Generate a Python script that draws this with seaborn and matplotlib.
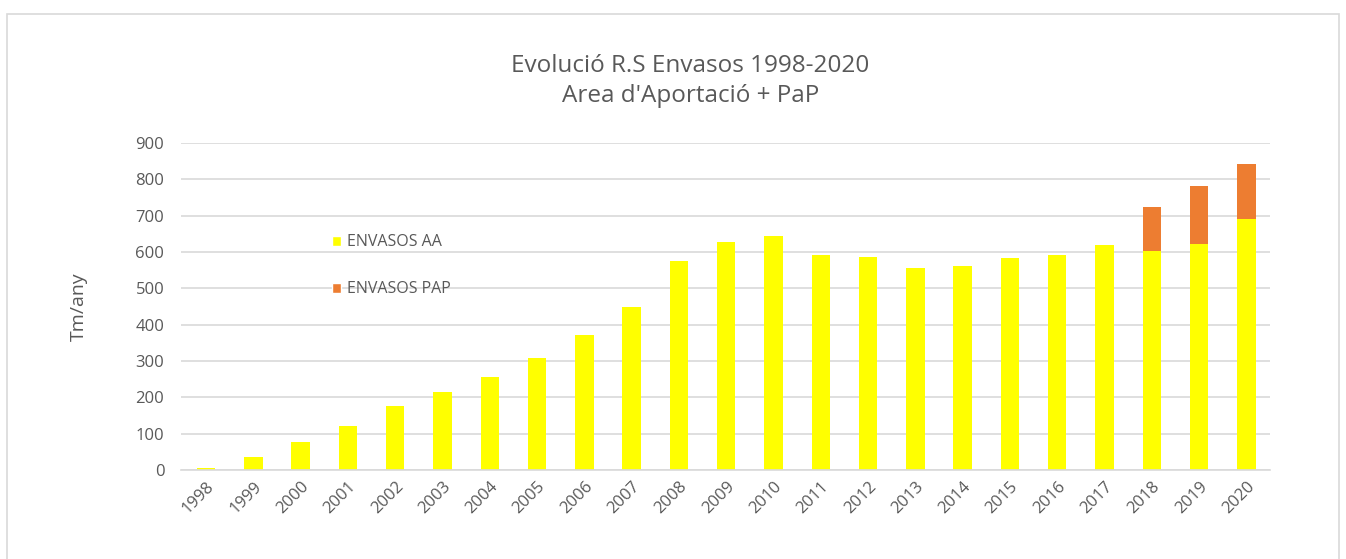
import matplotlib
matplotlib.use('Agg')
import matplotlib.pyplot as plt
import seaborn as sns
import pandas as pd
from matplotlib.patches import Patch, Rectangle

years = [str(y) for y in range(1998, 2021)]
envasos_aa = [5, 37, 78, 121, 175, 214, 257, 309, 372, 450, 575, 627, 643,
              592, 586, 556, 562, 583, 592, 620, 603, 623, 691]
envasos_pap = [0, 0, 0, 0, 0, 0, 0, 0, 0, 0, 0, 0, 0,
               0, 0, 0, 0, 0, 0, 0, 120, 158, 151]

df = pd.DataFrame({'Any': years, 'AA': envasos_aa, 'PAP': envasos_pap})
df['Total'] = df['AA'] + df['PAP']

sns.set_theme(style='white')
plt.rcParams['font.family'] = ['Open Sans', 'DejaVu Sans']
gray = '#595959'
yellow = '#FFFF00'
orange = '#ED7D31'

fig = plt.figure(figsize=(13.46, 5.59), dpi=100)
ax = fig.add_axes([181 / 1346, 1 - 470 / 559, 1089 / 1346, 327 / 559])

# stacked: total (orange) behind, AA (yellow) in front
sns.barplot(data=df, x='Any', y='Total', color=orange, width=0.39,
            saturation=1, linewidth=0, ax=ax)
sns.barplot(data=df, x='Any', y='AA', color=yellow, width=0.39,
            saturation=1, linewidth=0, ax=ax)

ax.set_ylim(0, 900)
ax.set_xlim(-0.53, 22.5)
ax.set_yticks(range(0, 901, 100))
ax.yaxis.grid(True, color='#D9D9D9', linewidth=1.2)
ax.set_axisbelow(True)
for s in ['top', 'right', 'left']:
    ax.spines[s].set_visible(False)
ax.spines['bottom'].set_color('#D9D9D9')
ax.spines['bottom'].set_linewidth(1.2)
ax.tick_params(axis='both', length=0, colors=gray, labelsize=12)
ax.tick_params(axis='y', pad=12)
ax.tick_params(axis='x', pad=6)
plt.setp(ax.get_xticklabels(), rotation=45, ha='right', rotation_mode='anchor')
ax.set_xlabel('')
ax.set_ylabel('Tm/any', color=gray, fontsize=14, labelpad=34)

fig.text(0.513, 1 - 81 / 559, "Evolució R.S Envasos 1998-2020\nArea d'Aportació + PaP",
         ha='center', va='center', fontsize=17.5, color=gray, linespacing=1.3)

handles = [Patch(facecolor=yellow, label='ENVASOS AA'),
           Patch(facecolor=orange, label='ENVASOS PAP')]
ax.legend(handles=handles, loc='upper left', bbox_to_anchor=(0.125, 0.765),
          frameon=False, fontsize=11.5, labelcolor=gray, handlelength=0.6,
          handleheight=0.6, handletextpad=0.4, labelspacing=1.95)

fig.add_artist(Rectangle((7 / 1346, -0.01), 1332 / 1346, 1 - 14 / 559 + 0.01,
                         transform=fig.transFigure, fill=False,
                         edgecolor='#D9D9D9', linewidth=1.2))

fig.savefig('out.png', dpi=100)
